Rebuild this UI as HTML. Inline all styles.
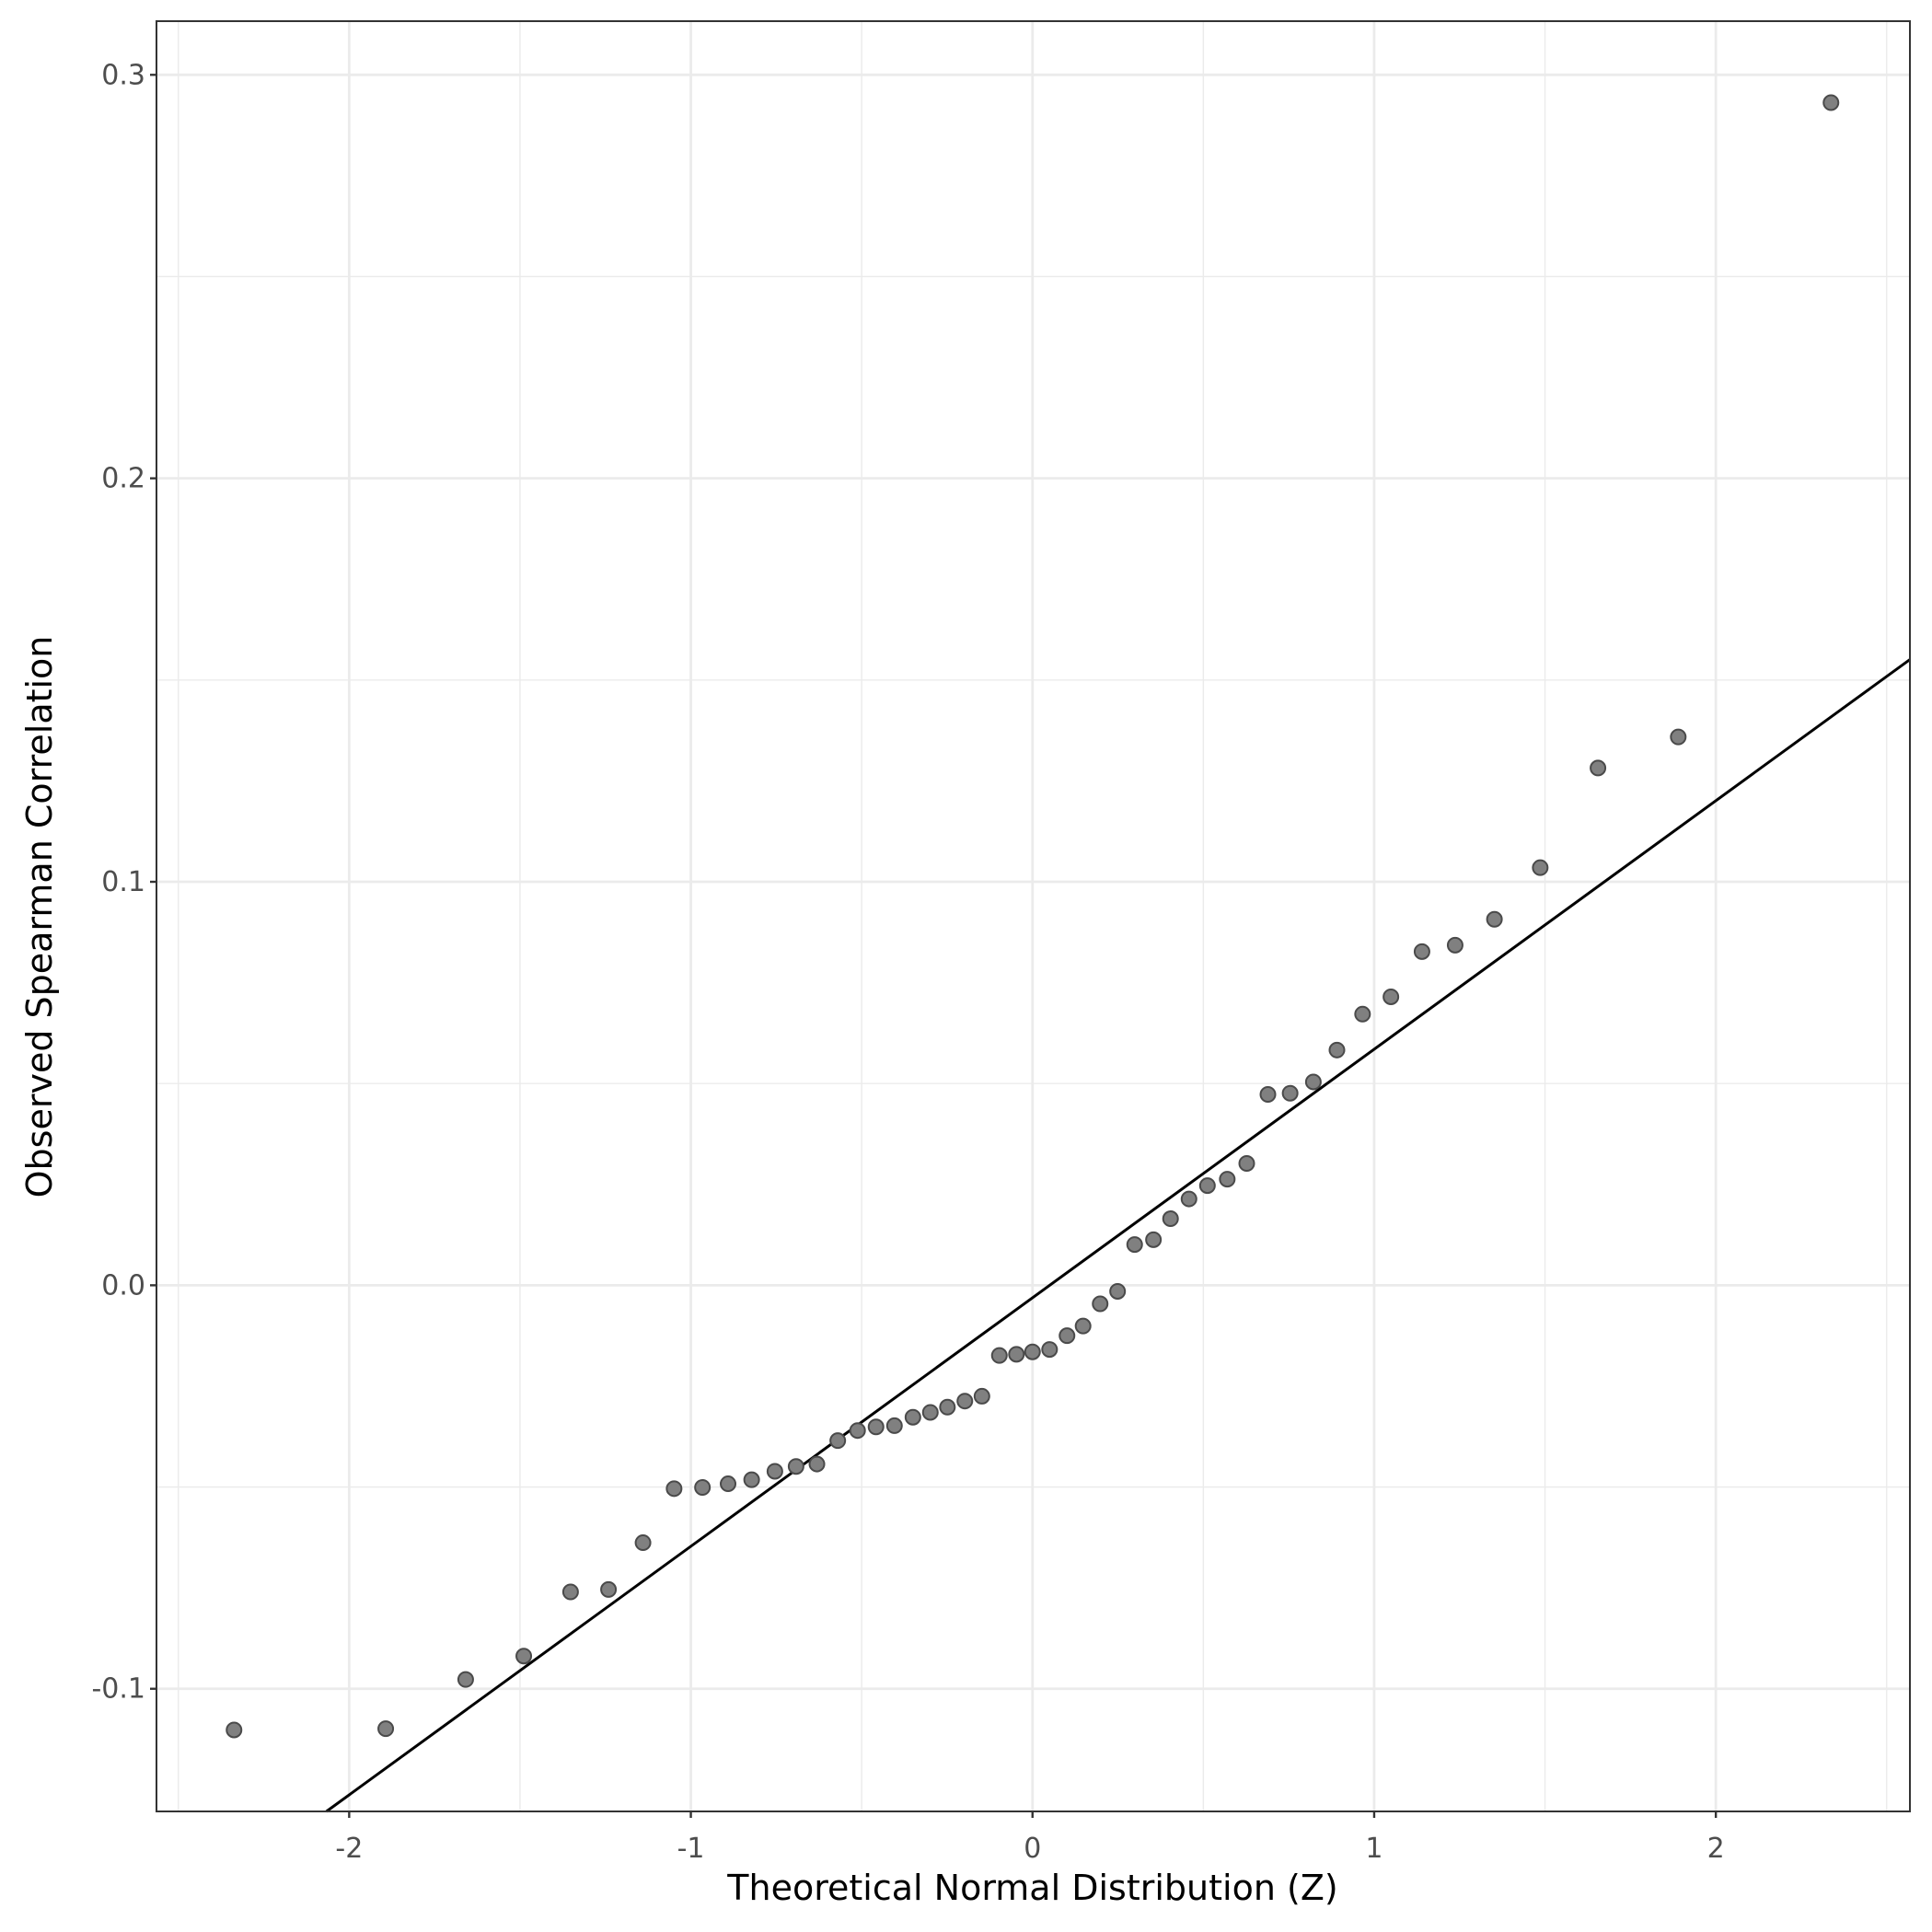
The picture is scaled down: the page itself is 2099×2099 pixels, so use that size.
<!DOCTYPE html>
<html><head><meta charset="utf-8"><style>
html,body{margin:0;padding:0;background:#fff;}
svg{display:block;font-family:"DejaVu Sans","Liberation Sans",sans-serif;}
</style></head><body>
<svg id="chart" width="2099" height="2099" viewBox="0 0 2099 2099" xmlns="http://www.w3.org/2000/svg">
<rect x="0" y="0" width="2099" height="2099" fill="#fff"/>
<g id="grid"></g>
<g id="line"></g>
<g id="points"></g>
<rect x="170" y="23" width="1905" height="1945" fill="none" stroke="#333" stroke-width="2"/>
<g id="axes"></g>
<text x="1122" y="2064" text-anchor="middle" font-size="38" fill="#000">Theoretical Normal Distribution (Z)</text>
<text transform="translate(56,996) rotate(-90)" text-anchor="middle" font-size="38" fill="#000">Observed Spearman Correlation</text>
</svg>
<script>
const theoreticalZ = [-2.337,-1.893,-1.659,-1.489,-1.352,-1.241,-1.140,-1.049,-0.966,-0.891,-0.822,-0.754,-0.692,-0.631,-0.570,-0.512,-0.458,-0.404,-0.350,-0.299,-0.249,-0.198,-0.148,-0.097,-0.047,0,0.050,0.101,0.148,0.198,0.249,0.299,0.354,0.404,0.458,0.512,0.570,0.627,0.689,0.754,0.822,0.891,0.966,1.049,1.140,1.237,1.352,1.486,1.655,1.890,2.337];
const observedR = [-0.1102,-0.1099,-0.0977,-0.0919,-0.0760,-0.0754,-0.0638,-0.0504,-0.0501,-0.0492,-0.0482,-0.0461,-0.0449,-0.0443,-0.0385,-0.0360,-0.0351,-0.0348,-0.0327,-0.0315,-0.0302,-0.0287,-0.0275,-0.0174,-0.0171,-0.0165,-0.0159,-0.0125,-0.0101,-0.0046,-0.0015,0.0101,0.0113,0.0165,0.0214,0.0247,0.0263,0.0302,0.0473,0.0476,0.0504,0.0583,0.0672,0.0715,0.0827,0.0843,0.0907,0.1035,0.1282,0.1359,0.2931];
const lineSlope = 0.0616;
const lineIntercept = -0.0031;
const xTicks = [-2,-1,0,1,2];
const xTickLabels = ["-2","-1","0","1","2"];
const xMinor = [-2.5,-1.5,-0.5,0.5,1.5,2.5];
const yTicks = [-0.1,0,0.1,0.2,0.3];
const yTickLabels = ["-0.1","0.0","0.1","0.2","0.3"];
const yMinor = [-0.05,0.05,0.15,0.25];

const L=170,R=2075,T=23,B=1968;
const xMin=-2.564,xMax=2.568,yMin=-0.1304,yMax=0.3133;
const sx=v=>L+(v-xMin)/(xMax-xMin)*(R-L);
const sy=v=>B-(v-yMin)/(yMax-yMin)*(B-T);
const NS="http://www.w3.org/2000/svg";
function mk(tag,attrs,parent){const e=document.createElementNS(NS,tag);for(const k in attrs)e.setAttribute(k,attrs[k]);parent.appendChild(e);return e;}
const grid=document.getElementById('grid'),axes=document.getElementById('axes');
xMinor.forEach(v=>{const e=mk('line',{x1:sx(v),x2:sx(v),y1:T,y2:B,stroke:'#ebebeb','stroke-width':1.4},grid);

});
yMinor.forEach(v=>{const e=mk('line',{x1:L,x2:R,y1:sy(v),y2:sy(v),stroke:'#ebebeb','stroke-width':1.4},grid);

});
xTicks.forEach((v,i)=>{const e=mk('line',{x1:sx(v),x2:sx(v),y1:T,y2:B,stroke:'#ebebeb','stroke-width':2.8},grid);


const t=mk('line',{x1:sx(v),x2:sx(v),y1:B,y2:B+7,stroke:'#333','stroke-width':2.4},axes);


const l=mk('text',{x:sx(v),y:B+50,'text-anchor':'middle','font-size':30,fill:'#4d4d4d'},axes);l.textContent=xTickLabels[i];

});
yTicks.forEach((v,i)=>{const e=mk('line',{x1:L,x2:R,y1:sy(v),y2:sy(v),stroke:'#ebebeb','stroke-width':2.8},grid);


const t=mk('line',{x1:L-7,x2:L,y1:sy(v),y2:sy(v),stroke:'#333','stroke-width':2.4},axes);


const l=mk('text',{x:L-12,y:sy(v)+10,'text-anchor':'end','font-size':30,fill:'#4d4d4d'},axes);l.textContent=yTickLabels[i];

});
const lg=document.getElementById('line');
let z1=xMin,z2=xMax;
const zAtY=y=>(y-lineIntercept)/lineSlope;
if(lineSlope>0){z1=Math.max(z1,zAtY(yMin));z2=Math.min(z2,zAtY(yMax));}
const ln=mk('line',{x1:sx(z1),y1:sy(lineSlope*z1+lineIntercept),x2:sx(z2),y2:sy(lineSlope*z2+lineIntercept),stroke:'#000','stroke-width':3},lg);


const pg=document.getElementById('points');
theoreticalZ.forEach((z,i)=>{const c=mk('circle',{cx:sx(z),cy:sy(observedR[i]),r:8,fill:'#808080',stroke:'#4a4a4a','stroke-width':2},pg);

});
</script>
</body></html>
